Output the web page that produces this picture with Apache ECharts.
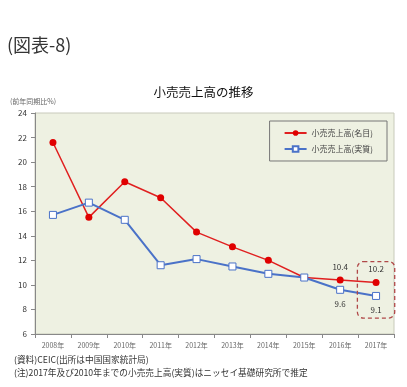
<!DOCTYPE html>
<html><head><meta charset="utf-8">
<script src="https://cdn.jsdelivr.net/npm/echarts@6/dist/echarts.min.js"></script>
<style>html,body{margin:0;padding:0;background:#fff}#c{width:407px;height:387px}</style>
</head><body><div id="c"></div>
<script>
var categories = ['2008年','2009年','2010年','2011年','2012年','2013年','2014年','2015年','2016年','2017年'];
var nominal = [21.6, 15.5, 18.4, 17.1, 14.3, 13.1, 12.0, 10.6, 10.4, 10.2];
var real = [15.7, 16.7, 15.3, 11.6, 12.1, 11.5, 10.9, 10.6, 9.6, 9.1];
var labeledNominal = {8: '10.4', 9: '10.2'};
var labeledReal = {8: '9.6', 9: '9.1'};
var yTicks = [6, 8, 10, 12, 14, 16, 18, 20, 22, 24];
var highlightCategory = '2017年';
var highlightRange = [11.9, 7.3];
var font = '"Noto Sans CJK JP", sans-serif';

var chart = echarts.init(document.getElementById('c'));
function mk(arr, lab, pos) {
  return arr.map(function (v, i) {
    var d = {value: v};
    if (lab[i]) d.label = {show: true, position: pos, formatter: lab[i], distance: 6};
    return d;
  });
}
var baseGraphics = [
  {type: 'text', left: 7, top: 36, style: {text: '(図表-8)', font: '18px ' + font, fill: '#333'}},
  {type: 'text', left: 10, top: 98, style: {text: '(前年同期比%)', font: '7px ' + font, fill: '#666'}},
  {type: 'text', left: 14, top: 355, style: {text: '(資料)CEIC(出所は中国国家統計局)', font: '8.7px ' + font, fill: '#333'}},
  {type: 'text', left: 14, top: 368, style: {text: '(注)2017年及び2010年までの小売売上高(実質)はニッセイ基礎研究所で推定', font: '8.7px ' + font, fill: '#333'}}
];
chart.setOption({
  animation: false,
  backgroundColor: '#fff',
  textStyle: {fontFamily: font},
  graphic: baseGraphics,
  title: {text: '小売売上高の推移', left: 'center', top: 81,
    textStyle: {fontSize: 12.5, fontWeight: 'normal', color: '#111', fontFamily: font}},
  grid: {left: 35, right: 13, top: 113, bottom: 53, show: true,
    backgroundColor: '#eef1e2', borderColor: '#c8cabb', borderWidth: 1},
  legend: {
    orient: 'vertical', right: 20, top: 121, itemGap: 8,
    padding: [8, 14, 8, 14],
    borderColor: '#777', borderWidth: 1, backgroundColor: '#eef1e2',
    itemWidth: 22, itemHeight: 7,
    textStyle: {fontSize: 8, color: '#444', fontFamily: font},
    data: ['小売売上高(名目)', '小売売上高(実質)']
  },
  xAxis: {
    type: 'category', data: categories, boundaryGap: true,
    axisLine: {lineStyle: {color: '#888'}},
    axisTick: {show: true, lineStyle: {color: '#888'}, length: 4},
    axisLabel: {fontSize: 7, color: '#666', margin: 8}
  },
  yAxis: {
    type: 'value', min: 6, max: 24, interval: 2,
    axisLine: {show: true, lineStyle: {color: '#888'}},
    axisTick: {show: true, lineStyle: {color: '#888'}, length: 4},
    splitLine: {show: false},
    axisLabel: {fontSize: 8, color: '#333', margin: 8,
      formatter: function (v) { return yTicks.indexOf(v) >= 0 ? String(v) : ''; }}
  },
  series: [
    {name: '小売売上高(名目)', type: 'line', data: mk(nominal, labeledNominal, 'top'),
      symbol: 'circle', symbolSize: 7,
      lineStyle: {color: '#e02020', width: 1.5},
      itemStyle: {color: '#e00000'},
      label: {fontSize: 8, color: '#333'}
    },
    {name: '小売売上高(実質)', type: 'line', data: mk(real, labeledReal, 'bottom'),
      symbol: 'rect', symbolSize: 7,
      lineStyle: {color: '#4a72c8', width: 2},
      itemStyle: {color: '#ffffff', borderColor: '#4a72c8', borderWidth: 1},
      label: {fontSize: 8, color: '#333'}
    }
  ]
});
// dashed highlight box around the last category, positioned through the chart's own scales
var pTop = chart.convertToPixel({gridIndex: 0}, [highlightCategory, highlightRange[0]]);
var pBot = chart.convertToPixel({gridIndex: 0}, [highlightCategory, highlightRange[1]]);
var p0 = chart.convertToPixel({gridIndex: 0}, [categories[0], highlightRange[0]]);
var p1 = chart.convertToPixel({gridIndex: 0}, [categories[1], highlightRange[0]]);
var band = p1[0] - p0[0];
chart.setOption({
  graphic: baseGraphics.concat([{
    type: 'rect', z: 10,
    shape: {x: pTop[0] - band * 0.52, y: pTop[1], width: band * 1.04, height: pBot[1] - pTop[1], r: 6},
    style: {fill: 'none', stroke: '#b04848', lineWidth: 1.3, lineDash: [4, 3]}
  }])
});
</script></body></html>
